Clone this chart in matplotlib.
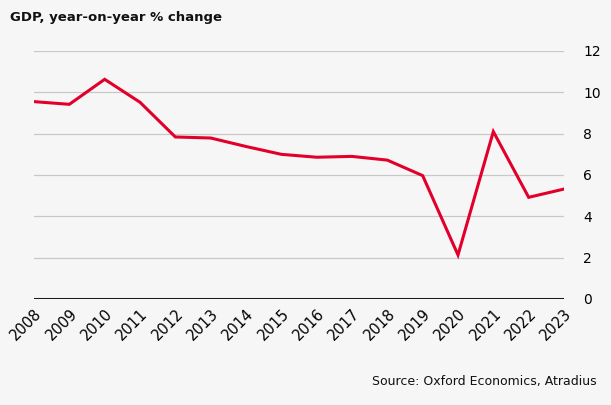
import matplotlib
matplotlib.use("Agg")
import matplotlib.pyplot as plt

# data
years = [2008, 2009, 2010, 2011, 2012, 2013, 2014, 2015,
         2016, 2017, 2018, 2019, 2020, 2021, 2022, 2023]
gdp = [9.55, 9.42, 10.63, 9.52, 7.84, 7.79, 7.38, 7.0,
       6.86, 6.9, 6.72, 5.97, 2.13, 8.1, 4.92, 5.32]
yticks = [0, 2, 4, 6, 8, 10, 12]

plt.rcParams['font.family'] = ['DejaVu Sans']

bg = '#f6f6f6'
red = '#e2002b'

fig = plt.figure(figsize=(6.11, 4.05), dpi=100, facecolor=bg)
ax = fig.add_axes([34/611, 1 - 299/405, 530/611, 248/405], facecolor=bg)

ax.plot(years, gdp, color=red, lw=2.2, solid_joinstyle='miter', zorder=3)

ax.set_xlim(years[0], years[-1])
ax.set_ylim(0, 12)
ax.set_yticks(yticks)
ax.yaxis.tick_right()
ax.tick_params(axis='y', length=0, pad=14, labelsize=10)
ax.set_xticks(years)
ax.set_xticklabels([str(y) for y in years], rotation=45, ha='right',
                   rotation_mode='anchor', fontsize=10.5)
ax.tick_params(axis='x', length=0, pad=5)

ax.grid(axis='y', color='#c8c8c8', lw=0.9, zorder=1)
ax.axhline(0, color='#1a1a1a', lw=2.2, zorder=2)
for s in ax.spines.values():
    s.set_visible(False)

fig.text(10/611, 1 - 17/405, 'GDP, year-on-year % change', fontsize=9.5,
         fontweight='bold', va='center', ha='left', color='#111111')
fig.text(597/611, 1 - 381/405, 'Source: Oxford Economics, Atradius', fontsize=9,
         va='center', ha='right', color='#111111')

fig.savefig('out.png', dpi=100, facecolor=bg)
